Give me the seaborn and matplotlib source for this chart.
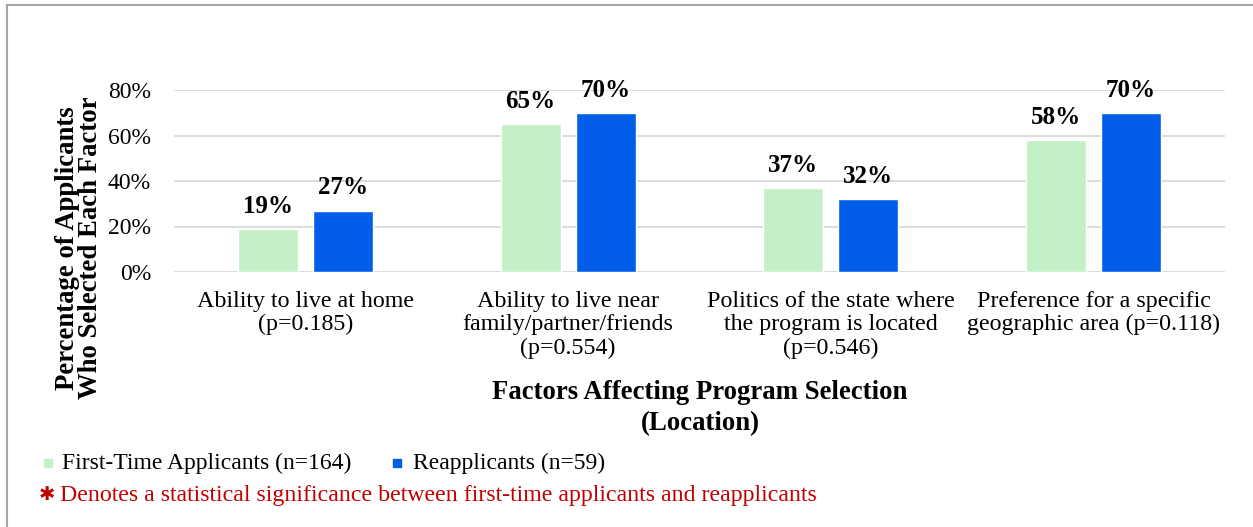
import matplotlib
matplotlib.use("Agg")
import matplotlib.pyplot as plt
from matplotlib.lines import Line2D
from matplotlib.patches import Rectangle
import seaborn as sns
import pandas as pd

categories = [
    "Ability to live at home\n(p=0.185)",
    "Ability to live near\nfamily/partner/friends\n(p=0.554)",
    "Politics of the state where\nthe program is located\n(p=0.546)",
    "Preference for a specific\ngeographic area (p=0.118)",
]
series_names = ["First-Time Applicants (n=164)", "Reapplicants (n=59)"]
first_time = [0.19, 0.65, 0.37, 0.58]
reapplicants = [0.27, 0.70, 0.32, 0.70]
y_ticks = [0.0, 0.2, 0.4, 0.6, 0.8]
y_tick_labels = ["0%", "20%", "40%", "60%", "80%"]
colors = ["#C4F0C8", "#025EE8"]
note_color = "#C00000"

df = pd.DataFrame({
    "category": categories * 2,
    "group": [series_names[0]] * 4 + [series_names[1]] * 4,
    "value": first_time + reapplicants,
})

sns.set_theme(style="white")
plt.rcParams["font.family"] = ["Liberation Serif", "DejaVu Serif"]
plt.rcParams["text.color"] = "black"
plt.rcParams["xtick.color"] = "black"
plt.rcParams["ytick.color"] = "black"

W, H = 1253, 527
fig = plt.figure(figsize=(W / 100, H / 100), dpi=100)
ax = fig.add_axes([174 / W, 1 - 272 / H, 1051 / W, 182 / H])

sns.barplot(data=df, x="category", y="value", hue="group", palette=colors,
            width=0.57, gap=0.2, ax=ax, legend=False, saturation=1)

ax.set_ylim(0, 0.8)
ax.set_xlim(-0.5, 3.5)
ax.set_yticks(y_ticks)
ax.set_yticklabels(y_tick_labels, fontsize=17)
ax.yaxis.grid(True, color="#d9d9d9", linewidth=1.3)
ax.set_axisbelow(True)
for s in ax.spines.values():
    s.set_visible(False)
ax.tick_params(axis="y", length=0, pad=16.5)
ax.tick_params(axis="x", length=0, pad=13.5)
ax.set_xticks(range(len(categories)))
ax.set_xticklabels(categories, fontsize=17.3, linespacing=1.15, va="top")
ax.set_xlabel("")
ax.set_ylabel("")

for container in ax.containers:
    ax.bar_label(container, labels=[f"{v * 100:.0f}%" for v in container.datavalues],
                 fontsize=18, fontweight="bold", padding=8, clip_on=False)

fig.text(79 / W, 1 - 248 / H, "Percentage of Applicants\nWho Selected Each Factor",
         rotation=90, ha="center", va="center", fontsize=19.3, fontweight="bold",
         linespacing=0.92)
fig.text(700 / W, 1 - 408 / H, "Factors Affecting Program Selection\n(Location)",
         ha="center", va="center", fontsize=19.3, fontweight="bold", linespacing=1.32)

# legend row
fig.patches.append(Rectangle((44 / W, 1 - 467 / H), 8 / W, 8 / H,
                             transform=fig.transFigure, color=colors[0]))
fig.text(62 / W, 1 - 463 / H, series_names[0], fontsize=17, va="center")
fig.patches.append(Rectangle((393 / W, 1 - 467 / H), 8 / W, 8 / H,
                             transform=fig.transFigure, color=colors[1]))
fig.text(413 / W, 1 - 463 / H, series_names[1], fontsize=17, va="center")

fig.text(39 / W, 1 - 495 / H, "\u2731", fontsize=14, color=note_color, va="center",
         family=["DejaVu Sans"])
fig.text(60 / W, 1 - 495 / H,
         "Denotes a statistical significance between first-time applicants and reapplicants",
         fontsize=17.2, color=note_color, va="center")

# outer frame lines
fig.lines.append(Line2D([7 / W, 1], [1 - 5 / H, 1 - 5 / H],
                        transform=fig.transFigure, color="#a6a6a6", linewidth=1.5))
fig.lines.append(Line2D([7 / W, 7 / W], [0, 1 - 5 / H],
                        transform=fig.transFigure, color="#a6a6a6", linewidth=1.5))

fig.savefig("out.png", dpi=100, facecolor="white")
